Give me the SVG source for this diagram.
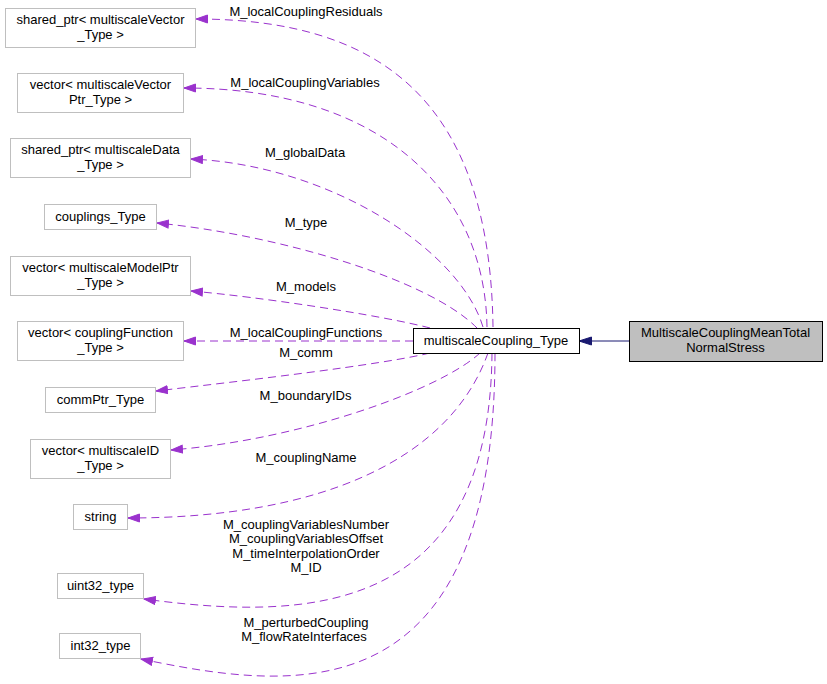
<svg xmlns="http://www.w3.org/2000/svg" width="827" height="684" viewBox="0 0 827 684">
<style>
text{font-family:"Liberation Sans",Arial,sans-serif;font-size:13px;fill:#000;text-anchor:middle}
.gn{fill:#fff;stroke:#bfbfbf;stroke-width:1}
.cn{fill:#fff;stroke:#000;stroke-width:1}
.rn{fill:#bfbfbf;stroke:#000;stroke-width:1}
.e{fill:none;stroke:#9a32cd;stroke-width:1;stroke-dasharray:8,5;marker-end:url(#pa)}
.inh{fill:none;stroke:#191970;stroke-width:1;marker-end:url(#na)}
</style>
<defs>
<marker id="pa" markerUnits="userSpaceOnUse" viewBox="0 0 13 10" refX="12" refY="5" markerWidth="13" markerHeight="10" orient="auto">
<path d="M0.5,1 L12,5 L0.5,9 z" fill="#9a32cd" stroke="#9a32cd" stroke-dasharray="none"/>
</marker>
<marker id="na" markerUnits="userSpaceOnUse" viewBox="0 0 14 10" refX="13" refY="5" markerWidth="14" markerHeight="10" orient="auto">
<path d="M0.5,1 L13,5 L0.5,9 z" fill="#191970" stroke="#191970"/>
</marker>
</defs>
<rect width="827" height="684" fill="#fff"/>
<g id="edges">
<path class="inh" d="M629,341 L579,341"/>
<path class="e" d="M493,327 C490,100 380,19 196,19"/>
<path class="e" d="M487,327 C485,190 380,88 184,88"/>
<path class="e" d="M483,327 C460,250 330,165 191,159"/>
<path class="e" d="M477,328 C430,280 280,235 157,223"/>
<path class="e" d="M430,328 C380,315 260,297 191,291"/>
<path class="e" d="M413,341 L184,341"/>
<path class="e" d="M430,353 C380,365 250,380 156,391"/>
<path class="e" d="M480,353 C440,390 300,440 171,450"/>
<path class="e" d="M488,353 C450,460 320,518 128,518"/>
<path class="e" d="M492,353 C490,620 300,620 144,599"/>
<path class="e" d="M495,353 C495,720 290,690 141,659"/>
<text x="306" y="16">M_localCouplingResiduals</text>
<text x="305" y="87">M_localCouplingVariables</text>
<text x="305" y="157">M_globalData</text>
<text x="306" y="227">M_type</text>
<text x="306" y="291">M_models</text>
<text x="306" y="337">M_localCouplingFunctions</text>
<text x="306" y="357">M_comm</text>
<text x="305.5" y="400">M_boundaryIDs</text>
<text x="306" y="462">M_couplingName</text>
<text x="306" y="529">M_couplingVariablesNumber</text>
<text x="306" y="543">M_couplingVariablesOffset</text>
<text x="306" y="558">M_timeInterpolationOrder</text>
<text x="306" y="572">M_ID</text>
<text x="306" y="627">M_perturbedCoupling</text>
<text x="304" y="641">M_flowRateInterfaces</text>
</g>
<g id="n_child"><rect class="rn" x="629.5" y="321.5" width="193" height="40"/><text x="725.5" y="337">MultiscaleCouplingMeanTotal</text><text x="725.5" y="352">NormalStress</text></g>
<g id="n_coupling"><rect class="cn" x="413.5" y="328.5" width="166" height="25"/><text x="496" y="345">multiscaleCoupling_Type</text></g>
<g id="n1"><rect class="gn" x="5.5" y="8.5" width="190" height="39"/><text x="100.5" y="24">shared_ptr&lt; multiscaleVector</text><text x="100.5" y="39">_Type &gt;</text></g>
<g id="n2"><rect class="gn" x="17.5" y="73.5" width="166" height="39"/><text x="100.5" y="89">vector&lt; multiscaleVector</text><text x="100.5" y="104">Ptr_Type &gt;</text></g>
<g id="n3"><rect class="gn" x="10.5" y="138.5" width="180" height="39"/><text x="100.5" y="154">shared_ptr&lt; multiscaleData</text><text x="100.5" y="169">_Type &gt;</text></g>
<g id="n4"><rect class="gn" x="44.5" y="204.5" width="112" height="25"/><text x="100.5" y="221">couplings_Type</text></g>
<g id="n5"><rect class="gn" x="10.5" y="256.5" width="180" height="39"/><text x="100.5" y="272">vector&lt; multiscaleModelPtr</text><text x="100.5" y="287">_Type &gt;</text></g>
<g id="n6"><rect class="gn" x="17.5" y="321.5" width="166" height="39"/><text x="100.5" y="337">vector&lt; couplingFunction</text><text x="100.5" y="352">_Type &gt;</text></g>
<g id="n7"><rect class="gn" x="45.5" y="387.5" width="110" height="25"/><text x="100.5" y="404">commPtr_Type</text></g>
<g id="n8"><rect class="gn" x="30.5" y="439.5" width="140" height="39"/><text x="100.5" y="455">vector&lt; multiscaleID</text><text x="100.5" y="470">_Type &gt;</text></g>
<g id="n9"><rect class="gn" x="73.5" y="504.5" width="54" height="25"/><text x="100.5" y="521">string</text></g>
<g id="n10"><rect class="gn" x="57.5" y="573.5" width="86" height="25"/><text x="100.5" y="590">uint32_type</text></g>
<g id="n11"><rect class="gn" x="59.5" y="633.5" width="81" height="25"/><text x="100.5" y="650">int32_type</text></g>
</svg>
